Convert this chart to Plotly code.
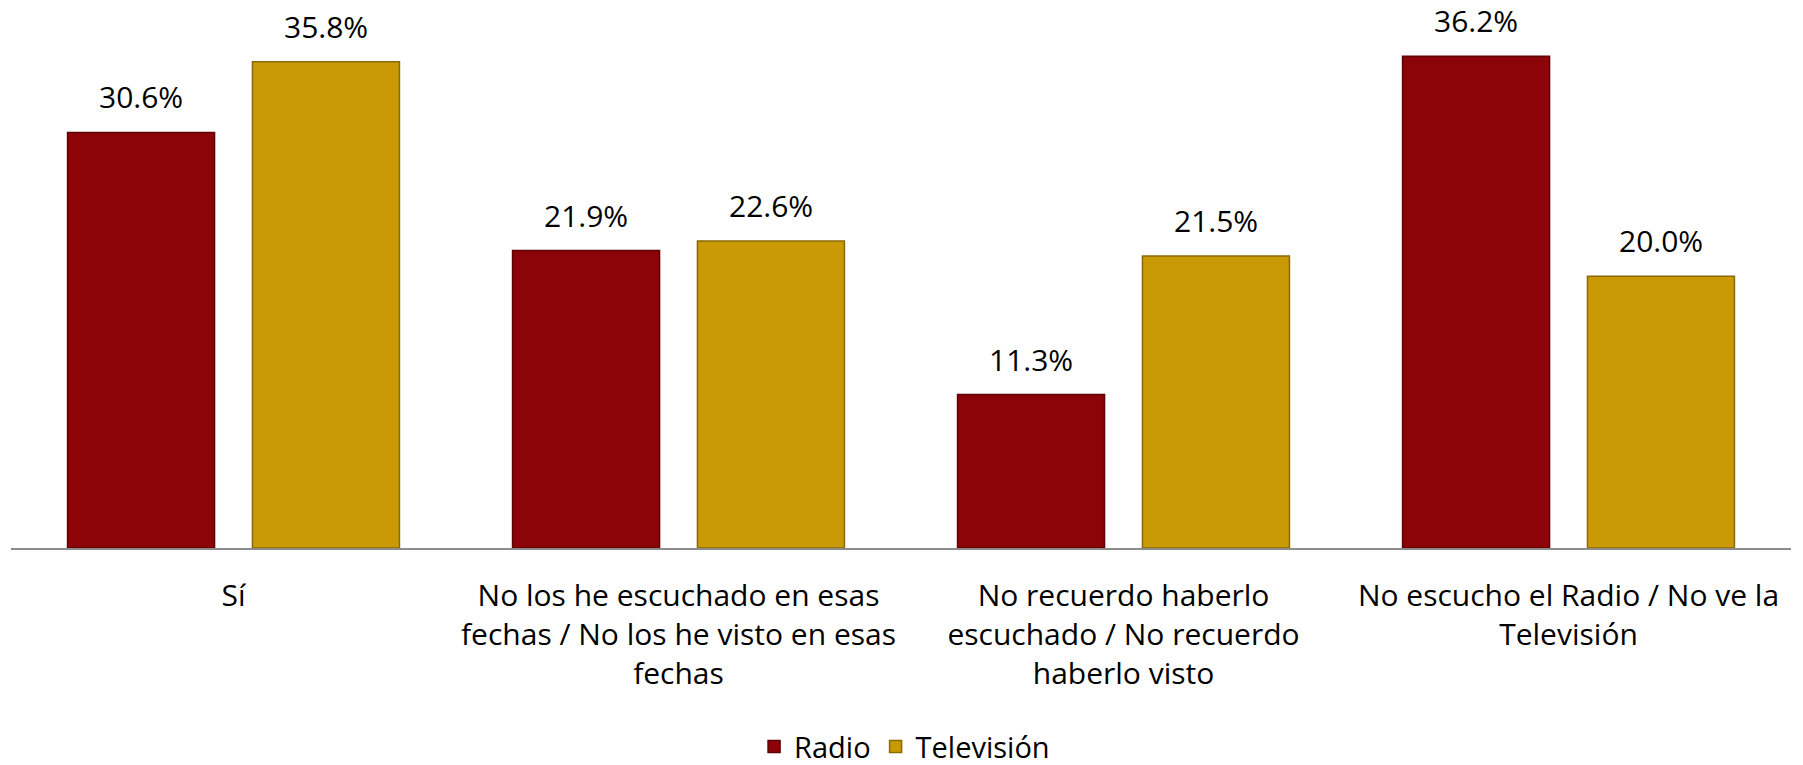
import plotly.graph_objects as go

categories = [
    "Sí",
    "No los he escuchado en esas<br>fechas / No los he visto en esas<br>fechas",
    "No recuerdo haberlo<br>escuchado / No recuerdo<br>haberlo visto",
    "No escucho el Radio / No ve la<br>Televisión",
]
radio = [30.6, 21.9, 11.3, 36.2]
television = [35.8, 22.6, 21.5, 20.0]

series = [
    ("Radio", radio, "#8C0408", "#5e0205"),
    ("Televisión", television, "#C99A05", "#8a6a06"),
]

FONT = "'Open Sans', sans-serif"
FS = 30
W, H = 1803, 765
ML, MR, MT, MB = 3, 20, 0, 225
plot_w = W - ML - MR
cat_w = plot_w / len(categories)
BARGAP = 0.169
slot = cat_w * (1 - BARGAP) / 2

fig = go.Figure()
annotations = []
for i, (name, vals, col, edge) in enumerate(series):
    fig.add_trace(go.Bar(
        name=name, x=categories, y=vals,
        marker=dict(color=col, line=dict(color=edge, width=1.5)),
    ))
    shift = (i - 0.5) * slot
    for c, v in zip(categories, vals):
        annotations.append(dict(
            x=c, y=v, xref="x", yref="y", text=f"{v:.1f}%",
            showarrow=False, yanchor="bottom", xshift=shift, yshift=13,
            font=dict(family=FONT, size=FS, color="#000000"),
        ))

fig.update_layout(
    width=W, height=H,
    margin=dict(l=ML, r=MR, t=MT, b=MB, autoexpand=False),
    paper_bgcolor="#ffffff", plot_bgcolor="rgba(0,0,0,0)",
    barmode="group", bargap=BARGAP, bargroupgap=0.205,
    font=dict(family=FONT, size=FS, color="#000000"),
    showlegend=True,
    legend=dict(orientation="h", x=0.502, xanchor="center", y=-0.368, yanchor="middle",
                font=dict(family=FONT, size=29), itemwidth=30, traceorder="normal"),
    annotations=annotations,
    xaxis=dict(showline=True, linecolor="#8c8c8c", linewidth=2, ticks="",
               tickfont=dict(family=FONT, size=FS), ticklabelstandoff=20,
               showgrid=False, zeroline=False),
    yaxis=dict(range=[0, 39.76], visible=False, showgrid=False, zeroline=False),
)

fig.write_html("out.html")
